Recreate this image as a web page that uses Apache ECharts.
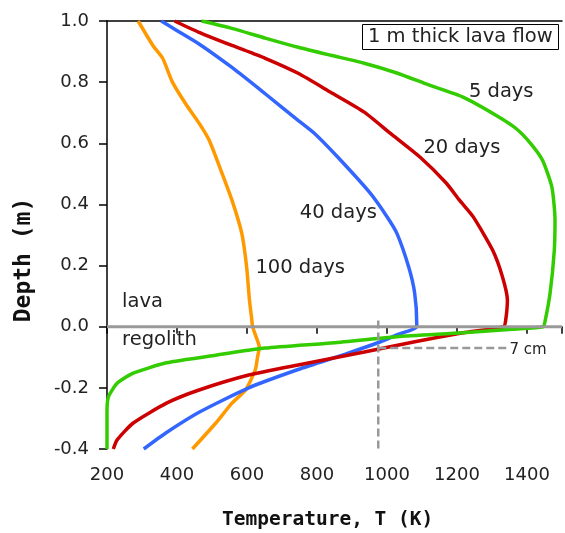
<!DOCTYPE html>
<html>
<head>
<meta charset="utf-8">
<script src="https://cdn.jsdelivr.net/npm/echarts@6/dist/echarts.min.js"></script>
<style>html,body{margin:0;padding:0;background:#fff;}#c{width:565px;height:533px;}</style>
</head>
<body>
<div id="c"></div>
<script>
// [Temperature K, Depth m]
const days5 = [[470,1.0],[557,0.976],[652,0.944],[746,0.914],[839,0.888],[935,0.862],[1028,0.83],[1121,0.79],[1217,0.751],[1311,0.692],[1367,0.65],[1410,0.6],[1444,0.545],[1471,0.457],[1480,0.35],[1478,0.25],[1466,0.11],[1452,0.02],[1446,0.0],[1358,-0.008],[1217,-0.02],[1028,-0.033],[840,-0.053],[652,-0.07],[511,-0.093],[370,-0.118],[275,-0.152],[229,-0.185],[204,-0.23],[200,-0.28],[200,-0.4]];
const days20 = [[393,1.0],[463,0.963],[557,0.92],[652,0.878],[746,0.829],[839,0.767],[935,0.702],[1009,0.633],[1094,0.555],[1169,0.47],[1207,0.414],[1246,0.36],[1302,0.25],[1330,0.163],[1344,0.087],[1339,0.02],[1333,0.0],[1217,-0.02],[1076,-0.05],[935,-0.083],[746,-0.125],[605,-0.158],[463,-0.207],[370,-0.25],[275,-0.315],[229,-0.37],[218,-0.4]];
const days40 = [[355,1.0],[398,0.97],[463,0.925],[557,0.848],[652,0.762],[746,0.675],[793,0.632],[859,0.555],[952,0.437],[1000,0.36],[1028,0.306],[1062,0.195],[1079,0.11],[1085,0.01],[1085,0.0],[1028,-0.027],[980,-0.05],[887,-0.087],[746,-0.14],[605,-0.2],[463,-0.28],[369,-0.347],[305,-0.4]];
const days100 = [[289,1.0],[331,0.92],[359,0.878],[387,0.80],[427,0.725],[463,0.666],[492,0.61],[526,0.51],[557,0.414],[585,0.306],[599,0.195],[607,0.087],[613,0.03],[616,0.0],[625,-0.03],[635,-0.066],[630,-0.1],[624,-0.14],[596,-0.207],[557,-0.25],[511,-0.315],[444,-0.4]];
const dashV = [[975,0.02],[975,-0.4]];
const dashH = [[975,-0.07],[1347,-0.07]];
const labels = [
  {name:'5 days', value:[1234,0.767]},
  {name:'20 days', value:[1104,0.584]},
  {name:'40 days', value:[751,0.371]},
  {name:'100 days', value:[624,0.192]},
  {name:'lava', value:[243,0.08]},
  {name:'regolith', value:[243,-0.043]}
];
const smallLabels = [{name:'7 cm', value:[1350,-0.076]}];
const xTicks = [200,400,600,800,1000,1200,1400];

const FONT = 'DejaVu Sans';
const chart = echarts.init(document.getElementById('c'), null, {renderer:'canvas'});
function curve(data, color){
  return {type:'line', data:data, smooth:0.2, showSymbol:false, symbol:'none',
    lineStyle:{color:color, width:3.5}, z:3, animation:false};
}
chart.setOption({
  animation:false,
  backgroundColor:'#fff',
  title:{text:'1 m thick lava flow', left:362, top:24, padding:[1,6,1,6],
    borderColor:'#000', borderWidth:1,
    textStyle:{fontFamily:FONT, fontSize:19.5, fontWeight:'normal', color:'#222', lineHeight:24}},
  graphic:[
    {type:'text', left:222, top:510, style:{text:'Temperature, T (K)', font:'bold 19.5px "DejaVu Sans Mono"', fill:'#111'}},
    {type:'text', x:24, y:260, rotation:Math.PI/2, style:{text:'Depth (m)', font:'bold 23px "DejaVu Sans Mono"', fill:'#111', align:'center', verticalAlign:'middle'}}
  ],
  grid:{left:107, top:21, right:-2, bottom:84},
  xAxis:[{type:'value', min:200, max:1500, interval:200, position:'bottom',
    axisLine:{show:true, lineStyle:{color:'#000', width:1.5}},
    axisTick:{show:true, length:7, lineStyle:{color:'#000', width:1.5}},
    axisLabel:{fontFamily:FONT, fontSize:18, color:'#222', margin:17,
      formatter:v=>xTicks.indexOf(v)>=0?String(v):''},
    splitLine:{show:false}},
   {type:'value', min:200, max:1500, position:'top',
    axisLine:{show:true, lineStyle:{color:'#000', width:1.5}},
    axisTick:{show:false}, axisLabel:{show:false}, splitLine:{show:false}}],
  yAxis:{type:'value', min:-0.4, max:1.0, interval:0.2,
    axisLine:{show:true, lineStyle:{color:'#000', width:1.5}},
    axisTick:{show:true, length:8, lineStyle:{color:'#000', width:1.5}},
    axisLabel:{fontFamily:FONT, fontSize:18, color:'#222', margin:18,
      formatter:v=>v.toFixed(1)},
    splitLine:{show:false}},
  series:[
    curve(days100,'#FF9900'),
    curve(days40,'#3366FF'),
    curve(days20,'#CC0000'),
    curve(days5,'#33CC00'),
    {type:'line', data:dashV, showSymbol:false, symbol:'none', z:4,
      lineStyle:{color:'#999', width:2.5, type:[8,4]}},
    {type:'line', data:dashH, showSymbol:false, symbol:'none', z:4,
      lineStyle:{color:'#999', width:2.5, type:[8,4]}},
    {type:'line', data:[[200,0],[1500,0]], showSymbol:false, symbol:'none', z:5,
      lineStyle:{color:'#999', width:3}},
    {type:'scatter', data:labels, symbolSize:0, z:6, itemStyle:{opacity:1},
      label:{show:true, position:'right', distance:0, formatter:p=>p.name,
        fontFamily:FONT, fontSize:19.5, color:'#222'}},
    {type:'scatter', data:smallLabels, symbolSize:0, z:6, itemStyle:{opacity:1},
      label:{show:true, position:'right', distance:0, formatter:p=>p.name,
        fontFamily:FONT, fontSize:15, color:'#222'}}
  ]
});
</script>
</body>
</html>
